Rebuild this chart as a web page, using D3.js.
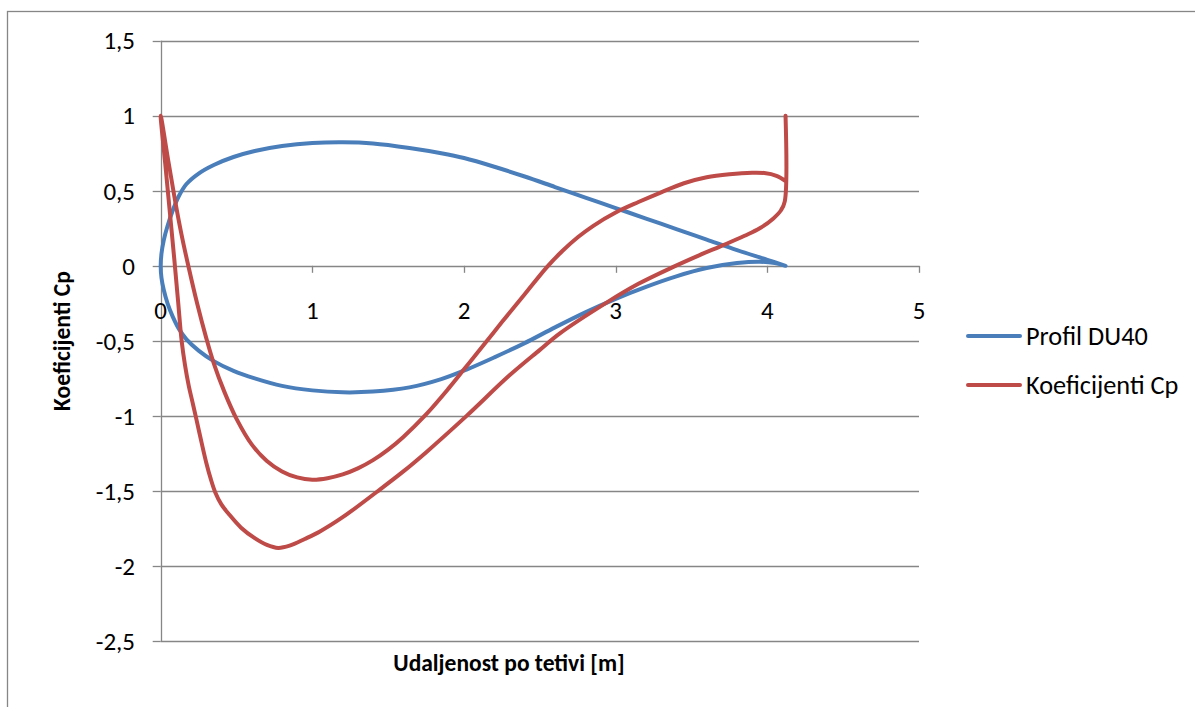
<!DOCTYPE html>
<html>
<head>
<meta charset="utf-8">
<script src="https://cdn.jsdelivr.net/npm/d3@7"></script>
<style>
  html, body { margin: 0; padding: 0; background: #fff; }
  svg { display: block; }
</style>
</head>
<body>
<svg id="chart" width="1195" height="707"></svg>
<script>
// Airfoil DU40 contour: trailing edge -> upper surface -> leading edge -> lower surface -> trailing edge
const profileX = [4.12, 4.00, 3.80, 3.60, 3.40, 3.20, 3.00, 2.80, 2.60, 2.40, 2.20, 2.00, 1.85, 1.64, 1.40, 1.20, 1.00, 0.80, 0.62, 0.48, 0.35, 0.25, 0.17, 0.12, 0.08, 0.045, 0.02, 0.005, 0.0,
                  0.005, 0.02, 0.045, 0.08, 0.12, 0.17, 0.25, 0.35, 0.48, 0.62, 0.80, 1.00, 1.20, 1.40, 1.64, 1.85, 2.02, 2.20, 2.40, 2.60, 2.80, 3.00, 3.20, 3.40, 3.60, 3.80, 3.95, 4.05, 4.12];
const profileY = [0.00, 0.04, 0.105, 0.175, 0.245, 0.315, 0.385, 0.455, 0.525, 0.595, 0.66, 0.718, 0.75, 0.785, 0.815, 0.823, 0.818, 0.798, 0.765, 0.725, 0.672, 0.615, 0.545, 0.465, 0.37, 0.265, 0.17, 0.08, 0.0,
                  -0.08, -0.16, -0.25, -0.34, -0.42, -0.49, -0.565, -0.635, -0.70, -0.75, -0.80, -0.83, -0.843, -0.838, -0.81, -0.755, -0.69, -0.61, -0.515, -0.41, -0.31, -0.22, -0.14, -0.07, -0.015, 0.018, 0.027, 0.018, 0.0];

// Pressure coefficient: upper branch (TE -> LE), lower branch (LE -> TE), closed at the trailing edge
const cpX = [4.12, 4.06, 3.98, 3.90, 3.75, 3.60, 3.45, 3.30, 3.15, 3.00, 2.85, 2.75, 2.65, 2.545, 2.40, 2.25, 2.10, 2.00, 1.90, 1.75, 1.60, 1.50, 1.40, 1.30, 1.20, 1.10, 1.00, 0.90, 0.80, 0.70, 0.60, 0.50, 0.42, 0.35, 0.30, 0.24, 0.182, 0.135, 0.094, 0.05, 0.0,
             0.03, 0.06, 0.09, 0.115, 0.138, 0.16, 0.185, 0.21, 0.237, 0.27, 0.30, 0.33, 0.36, 0.40, 0.45, 0.53, 0.62, 0.70, 0.775, 0.85, 0.95, 1.05, 1.20, 1.424, 1.60, 1.753, 2.017, 2.30, 2.50, 2.632, 2.94, 3.15, 3.38, 3.55, 3.71, 3.85, 3.95, 4.04, 4.09, 4.115, 4.12];
const cpY = [0.565, 0.60, 0.618, 0.62, 0.61, 0.59, 0.55, 0.49, 0.425, 0.355, 0.265, 0.19, 0.10, -0.01, -0.19, -0.375, -0.565, -0.69, -0.815, -0.99, -1.14, -1.225, -1.295, -1.35, -1.39, -1.415, -1.425, -1.41, -1.37, -1.30, -1.19, -1.02, -0.84, -0.65, -0.48, -0.25, 0.0, 0.22, 0.44, 0.70, 1.0,
             0.68, 0.36, 0.04, -0.24, -0.5, -0.66, -0.8, -0.91, -1.03, -1.18, -1.31, -1.42, -1.51, -1.59, -1.655, -1.745, -1.815, -1.86, -1.88, -1.865, -1.82, -1.77, -1.675, -1.507, -1.37, -1.24, -1.0, -0.73, -0.56, -0.45, -0.245, -0.12, -0.007, 0.07, 0.138, 0.20, 0.25, 0.316, 0.37, 0.43, 1.0];

const xTicks = [0, 1, 2, 3, 4, 5];
const yTicks = [1.5, 1, 0.5, 0, -0.5, -1, -1.5, -2, -2.5];
const seriesNames = ["Profil DU40", "Koeficijenti Cp"];
const seriesColors = ["#4A7EBB", "#BE4B48"];
const xTitle = "Udaljenost po tetivi [m]";
const yTitle = "Koeficijenti Cp";

const svg = d3.select("#chart");
const FONT = "Calibri, Carlito, sans-serif";
const GRID = "#868686";

const x = d3.scaleLinear().domain([0, 5]).range([160.7, 919]);
const y = d3.scaleLinear().domain([-2.5, 1.5]).range([641, 40.7]);

// outer chart frame
svg.append("rect")
  .attr("x", 7.5).attr("y", 11.5)
  .attr("width", 1300).attr("height", 800)
  .attr("fill", "none").attr("stroke", GRID).attr("stroke-width", 1.3);

function label(g, tx, ty, str, opts = {}) {
  return g.append("text")
    .attr("transform", `translate(${tx},${ty})${opts.rotate ? ` rotate(${opts.rotate})` : ""}`)
    .attr("text-anchor", opts.anchor || "start")
    .attr("dy", "0.35em")
    .attr("font-family", FONT)
    .attr("font-size", opts.size || (opts.bold ? 23.5 : 25))
    .attr("font-weight", opts.bold ? "bold" : "normal")
    .attr("fill", "#000")
    .text(str);
}

// horizontal gridlines
svg.append("g").selectAll("line").data(yTicks).join("line")
  .attr("x1", x(0)).attr("x2", x(5))
  .attr("y1", d => Math.round(y(d)) + 0.5).attr("y2", d => Math.round(y(d)) + 0.5)
  .attr("stroke", GRID).attr("stroke-width", 1.3);

// y axis line and ticks
svg.append("line")
  .attr("x1", Math.round(x(0)) + 0.5).attr("x2", Math.round(x(0)) + 0.5)
  .attr("y1", y(1.5)).attr("y2", y(-2.5))
  .attr("stroke", GRID).attr("stroke-width", 1.3);
svg.append("g").selectAll("line").data(yTicks).join("line")
  .attr("x1", x(0) - 8).attr("x2", x(0))
  .attr("y1", d => Math.round(y(d)) + 0.5).attr("y2", d => Math.round(y(d)) + 0.5)
  .attr("stroke", GRID).attr("stroke-width", 1.3);

// x axis ticks at y = 0
svg.append("g").selectAll("line").data(xTicks).join("line")
  .attr("x1", d => Math.round(x(d)) + 0.5).attr("x2", d => Math.round(x(d)) + 0.5)
  .attr("y1", y(0)).attr("y2", y(0) + 7)
  .attr("stroke", GRID).attr("stroke-width", 1.3);

const fmt = v => String(v).replace(".", ",");
const tl = svg.append("g");
yTicks.forEach(v => label(tl, 135, y(v), fmt(v), { anchor: "end" }));
xTicks.forEach(v => label(tl, x(v), 310, fmt(v), { anchor: "middle" }));

// series lines
const line = d3.line()
  .x(d => x(d[0])).y(d => y(d[1]))
  .curve(d3.curveCatmullRom.alpha(0.5));
const profile = profileX.map((v, i) => [v, profileY[i]]);
const cp = cpX.map((v, i) => [v, cpY[i]]);

svg.append("path").datum(profile).attr("d", line)
  .attr("fill", "none").attr("stroke", seriesColors[0])
  .attr("stroke-width", 4).attr("stroke-linejoin", "round").attr("stroke-linecap", "round");
svg.append("path").datum(cp).attr("d", line)
  .attr("fill", "none").attr("stroke", seriesColors[1])
  .attr("stroke-width", 4).attr("stroke-linejoin", "round").attr("stroke-linecap", "round");

// axis titles
label(svg, 509, 663, xTitle, { anchor: "middle", bold: true });
label(svg, 62, 341, yTitle, { anchor: "middle", bold: true, rotate: -90 });

// legend
const lg = svg.append("g");
seriesNames.forEach((name, i) => {
  const ly = 336 + i * 49;
  lg.append("line")
    .attr("x1", 968).attr("x2", 1020).attr("y1", ly).attr("y2", ly)
    .attr("stroke", seriesColors[i]).attr("stroke-width", 4).attr("stroke-linecap", "round");
  label(lg, 1026, ly, name, { size: 26.3 });
});
</script>
</body>
</html>
